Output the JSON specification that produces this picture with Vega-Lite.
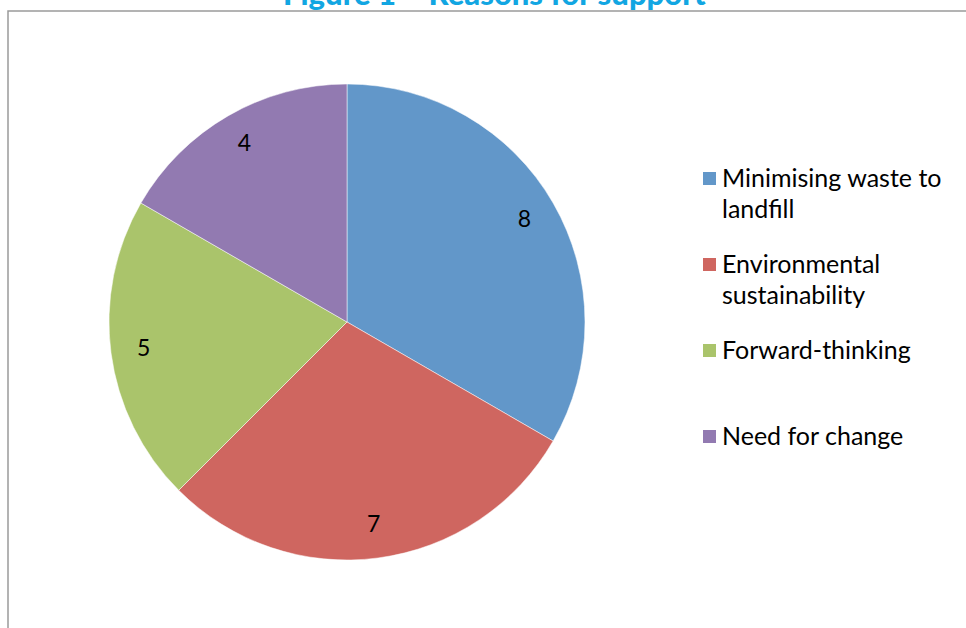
{
  "$schema": "https://vega.github.io/schema/vega-lite/v6.json",
  "width": 1000,
  "height": 700,
  "autosize": "none",
  "padding": {"left": 8, "top": 11, "right": 0, "bottom": 0},
  "title": {
    "text": "Figure 1 – Reasons for support",
    "font": "Lato",
    "fontSize": 31,
    "fontWeight": 900,
    "color": "#12A6E2",
    "anchor": "start",
    "dx": 275,
    "dy": 7,
    "offset": 6
  },
  "view": {"stroke": "#9a9a9a", "strokeWidth": 1.5},
  "config": {
    "font": "Lato",
    "style": {"guide-label": {"lineHeight": 31}}
  },
  "data": {
    "values": [
      {"reason": "Minimising waste to landfill", "count": 8, "idx": 1},
      {"reason": "Environmental sustainability", "count": 7, "idx": 2},
      {"reason": "Forward-thinking", "count": 5, "idx": 3},
      {"reason": "Need for change", "count": 4, "idx": 4}
    ]
  },
  "encoding": {
    "theta": {"field": "count", "type": "quantitative", "stack": true},
    "order": {"field": "idx", "type": "quantitative"}
  },
  "layer": [
    {
      "mark": {"type": "arc", "x": 339, "y": 311, "radius": 238, "stroke": "white", "strokeWidth": 0.5},
      "encoding": {
        "color": {
          "field": "reason",
          "type": "nominal",
          "scale": {
            "domain": ["Minimising waste to landfill", "Environmental sustainability", "Forward-thinking", "Need for change"],
            "range": ["#6297C9", "#CF6660", "#AAC46B", "#927AB1"]
          },
          "legend": {
            "orient": "none",
            "legendX": 689,
            "legendY": 155,
            "title": null,
            "padding": 0,
            "symbolType": "square",
            "symbolSize": 169,
            "symbolStrokeWidth": 0,
            "labelFont": "Lato",
            "labelFontSize": 25,
            "labelColor": "#000000",
            "labelOffset": 0,
            "labelLimit": 400,
            "rowPadding": 29,
            "labelExpr": "datum.label == 'Minimising waste to landfill' ? ['Minimising waste to', 'landfill'] : datum.label == 'Environmental sustainability' ? ['Environmental', 'sustainability'] : [datum.label, ' ']"
          }
        }
      }
    },
    {
      "mark": {"type": "text", "x": 339, "y": 311, "radius": 205, "fontSize": 23, "font": "Lato", "color": "#000000"},
      "encoding": {
        "text": {"field": "count", "type": "quantitative"}
      }
    }
  ]
}
